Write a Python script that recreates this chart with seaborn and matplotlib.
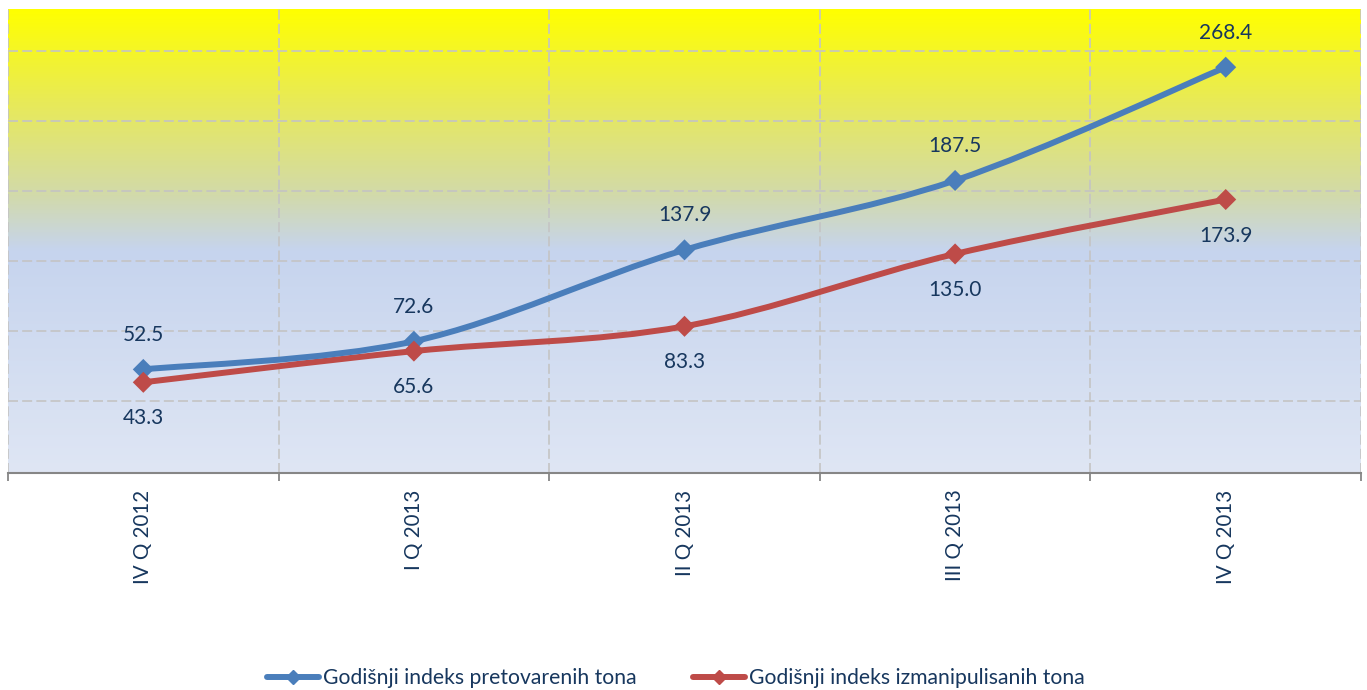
import numpy as np
import matplotlib
matplotlib.use("Agg")
import matplotlib.pyplot as plt
from matplotlib.colors import LinearSegmentedColormap
from matplotlib.path import Path
from matplotlib.patches import PathPatch
from matplotlib.lines import Line2D
import pandas as pd
import seaborn as sns

# podaci
kvartali = ["IV Q 2012", "I Q 2013", "II Q 2013", "III Q 2013", "IV Q 2013"]
pretovareno = [52.5, 72.6, 137.9, 187.5, 268.4]
izmanipulisano = [43.3, 65.6, 83.3, 135.0, 173.9]
naziv_plavi = "Godišnji indeks pretovarenih tona"
naziv_crveni = "Godišnji indeks izmanipulisanih tona"

plava = "#4A7EBB"
crvena = "#BE4B48"
tekst = "#17375E"

sns.set_style("white")
plt.rcParams["font.family"] = ["Lato", "DejaVu Sans"]

fig = plt.figure(figsize=(13.67, 6.90), dpi=100)
ax = fig.add_axes([8 / 1367, 1 - 473 / 690, 1353 / 1367, 464 / 690])

ymin, ymax = -21.5, 310
ax.set_xlim(-0.5, 4.5)
ax.set_ylim(ymin, ymax)

# pozadina - gradijent (vrh zut, dno svijetloplavo)
cmap = LinearSegmentedColormap.from_list("poz", [
    (0.0, "#FFFF00"), (0.2, "#E8EA58"), (0.4, "#D2DAAA"),
    (0.52, "#C6D4EE"), (1.0, "#DFE6F4")])
grad = np.linspace(0, 1, 256).reshape(-1, 1)
ax.imshow(grad, cmap=cmap, aspect="auto", extent=(-0.5, 4.5, ymin, ymax),
          origin="upper", zorder=0)
ax.set_xlim(-0.5, 4.5)
ax.set_ylim(ymin, ymax)

# mreza
for y in range(30, 300, 50):
    ax.axhline(y, color="#C4C4C4", lw=1.2, ls=(0, (6, 2.5)), zorder=1)
for x in np.arange(-0.5, 4.6, 1.0):
    ax.axvline(x, color="#C4C4C4", lw=1.2, ls=(0, (6, 2.5)), zorder=1)


def glatka(xs, ys):
    pts = np.column_stack([xs, ys]).astype(float)
    verts = [pts[0]]
    codes = [Path.MOVETO]
    n = len(pts)
    for i in range(n - 1):
        p0 = pts[max(i - 1, 0)]
        p1 = pts[i]
        p2 = pts[i + 1]
        p3 = pts[min(i + 2, n - 1)]
        c1 = p1 + (p2 - p0) / 6
        c2 = p2 - (p3 - p1) / 6
        verts += [c1, c2, p2]
        codes += [Path.CURVE4] * 3
    return Path(verts, codes)


xs = np.arange(len(kvartali))
for vals, boja in [(izmanipulisano, crvena), (pretovareno, plava)]:
    ax.add_patch(PathPatch(glatka(xs, vals), fc="none", ec=boja, lw=4.3,
                           capstyle="round", joinstyle="round", zorder=3))

df = pd.DataFrame({"x": np.concatenate([xs, xs]),
                   "y": pretovareno + izmanipulisano,
                   "s": [naziv_plavi] * 5 + [naziv_crveni] * 5})
sns.scatterplot(data=df, x="x", y="y", hue="s",
                palette={naziv_plavi: plava, naziv_crveni: crvena},
                marker="D", s=115, edgecolor="none", legend=False, ax=ax,
                zorder=4)

for i in range(len(kvartali)):
    ax.annotate(f"{pretovareno[i]:.1f}", (xs[i], pretovareno[i]),
                xytext=(0, 25), textcoords="offset points", ha="center",
                va="center", fontsize=15, color=tekst)
    ax.annotate(f"{izmanipulisano[i]:.1f}", (xs[i], izmanipulisano[i]),
                xytext=(0, -26), textcoords="offset points", ha="center",
                va="center", fontsize=15, color=tekst)

# ose
ax.set_xticks(xs)
ax.set_xticklabels(kvartali, rotation=90, fontsize=14.8, color=tekst)
ax.set_xticks(np.arange(-0.5, 4.6, 1.0), minor=True)
ax.tick_params(axis="x", which="major", length=0, pad=12)
ax.tick_params(axis="x", which="minor", length=6, width=1.3,
               color="#868686", direction="out", bottom=True)
ax.set_yticks([])
ax.set_xlabel("")
ax.set_ylabel("")
for s in ["top", "left", "right"]:
    ax.spines[s].set_visible(False)
ax.spines["bottom"].set_color("#868686")
ax.spines["bottom"].set_linewidth(1.5)
ax.spines["bottom"].set_zorder(5)

handles = [Line2D([], [], color=plava, lw=4.3, marker="D", markersize=7),
           Line2D([], [], color=crvena, lw=4.3, marker="D", markersize=7)]
fig.legend(handles, [naziv_plavi, naziv_crveni], loc="center",
           bbox_to_anchor=(676 / 1367, 1 - 678 / 690), ncol=2, frameon=False,
           fontsize=15.2, labelcolor=tekst, handlelength=2.45,
           handletextpad=0.2, columnspacing=2.7)

fig.savefig("out.png", dpi=100)
